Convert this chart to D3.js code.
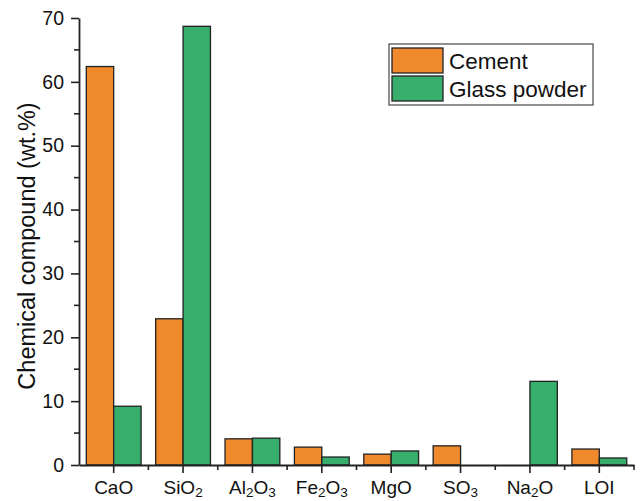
<!DOCTYPE html>
<html><head><meta charset="utf-8">
<script src="https://cdn.jsdelivr.net/npm/d3@7"></script>
<style>body{margin:0;background:#fff}svg{display:block;font-family:"Liberation Sans",Arial,sans-serif}</style>
</head><body>
<svg id="c" width="640" height="501"></svg>
<script>
const categories = [
  [["CaO",""]],
  [["SiO",""],["2","sub"]],
  [["Al",""],["2","sub"],["O",""],["3","sub"]],
  [["Fe",""],["2","sub"],["O",""],["3","sub"]],
  [["MgO",""]],
  [["SO",""],["3","sub"]],
  [["Na",""],["2","sub"],["O",""]],
  [["LOI",""]]
];
const categoryKeys = ["CaO","SiO2","Al2O3","Fe2O3","MgO","SO3","Na2O","LOI"];
const seriesNames = ["Cement","Glass powder"];
const cement = [62.4, 22.9, 4.1, 2.8, 1.7, 3.0, 0, 2.5];
const glass = [9.2, 68.7, 4.2, 1.25, 2.2, 0, 13.1, 1.1];
const yTicks = [0,10,20,30,40,50,60,70];
const colors = ["#F0892C","#37AE6B"];

const svg = d3.select("#c");
const x = d3.scaleBand().domain(categoryKeys).range([79, 634]).padding(0);
const y = d3.scaleLinear().domain([0,70]).range([465, 18]);
const barW = x.bandwidth()*0.395;

const series = [cement, glass];
series.forEach((vals, si) => {
  svg.append("g").selectAll("rect").data(vals).join("rect")
    .attr("x", (d,i) => x(categoryKeys[i]) + x.bandwidth()/2 + (si===0 ? -barW : 0))
    .attr("y", d => y(d))
    .attr("width", barW)
    .attr("height", d => y(0) - y(d))
    .attr("fill", colors[si])
    .attr("stroke", "#222")
    .attr("stroke-width", 1.3);
});

// Y axis
const yAxis = svg.append("g").attr("transform","translate(79,0)")
  .call(d3.axisLeft(y).tickValues(yTicks).tickSize(8).tickPadding(7).tickSizeOuter(0));
yAxis.select(".domain").attr("stroke","#222").attr("stroke-width",1.8);
yAxis.selectAll(".tick line").attr("stroke","#222").attr("stroke-width",1.6);
yAxis.selectAll(".tick text").attr("font-size",19.5).attr("fill","#111").attr("font-family","Liberation Sans, Arial");
// minor y ticks
svg.append("g").selectAll("line").data(d3.range(5,70,10)).join("line")
  .attr("x1",79).attr("x2",74).attr("y1",d=>y(d)).attr("y2",d=>y(d))
  .attr("stroke","#222").attr("stroke-width",1.6);

// X axis
const xAxis = svg.append("g").attr("transform","translate(0,465)")
  .call(d3.axisBottom(x).tickSize(8).tickSizeOuter(0).tickFormat(""));
xAxis.select(".domain").attr("stroke","#222").attr("stroke-width",1.8);
xAxis.selectAll(".tick line").attr("stroke","#222").attr("stroke-width",1.6);
// minor x ticks at band boundaries
svg.append("g").selectAll("line").data(categoryKeys.slice(1).map(k=>x(k)).concat([634])).join("line")
  .attr("x1",d=>d).attr("x2",d=>d).attr("y1",465).attr("y2",470)
  .attr("stroke","#222").attr("stroke-width",1.6);
// x labels with subscripts
categories.forEach((parts, i) => {
  const t = svg.append("text").attr("x", x(categoryKeys[i]) + x.bandwidth()/2).attr("y", 494)
    .attr("text-anchor","middle").attr("font-size",19).attr("fill","#111");
  let prevSub = false;
  parts.forEach(([s, k]) => {
    const ts = t.append("tspan").text(s);
    if (k === "sub") { ts.attr("font-size",13.5).attr("dy",3); prevSub = true; }
    else { ts.attr("dy", prevSub ? -3 : 0); prevSub = false; }
  });
});

// Y label
svg.append("text").attr("transform","translate(35,246) rotate(-90)")
  .attr("text-anchor","middle").attr("font-size",23.5).attr("fill","#111")
  .text("Chemical compound (wt.%)");

// Legend
const lg = svg.append("g");
lg.append("rect").attr("x",389).attr("y",44).attr("width",204).attr("height",61)
  .attr("fill","#fff").attr("stroke","#555").attr("stroke-width",1.3);
seriesNames.forEach((n,i)=>{
  lg.append("rect").attr("x",392).attr("y",48+i*28).attr("width",51).attr("height",25)
    .attr("fill",colors[i]).attr("stroke","#222").attr("stroke-width",1.3);
  lg.append("text").attr("x",449).attr("y",69+i*28).attr("font-size",22.5).attr("fill","#111").text(n);
});
</script>
</body></html>
